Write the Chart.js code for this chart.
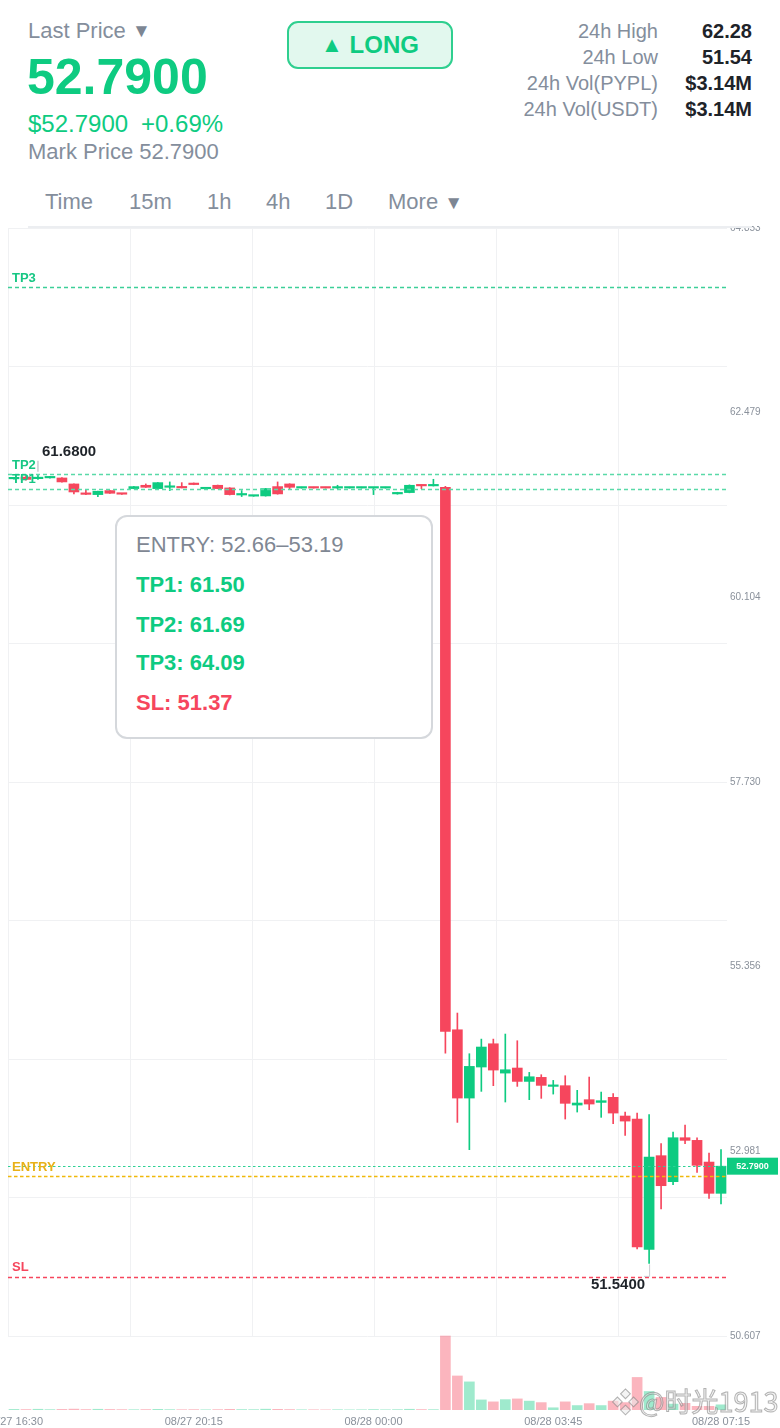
<!DOCTYPE html>
<html><head><meta charset="utf-8">
<script src="https://cdn.jsdelivr.net/npm/chart.js@4.4.1/dist/chart.umd.min.js"></script>
<style>
html,body{margin:0;padding:0;background:#fff;width:780px;height:1428px;overflow:hidden;font-family:"Liberation Sans",Arial,sans-serif;}
#wrap{position:relative;width:780px;height:1428px;}
#c{position:absolute;left:0;top:0;}
.a{position:absolute;white-space:nowrap;line-height:1;}
#hdr{position:absolute;left:0;top:0;width:780px;height:226px;background:#fff;z-index:2;}
#hline{position:absolute;left:28px;top:226px;width:724px;height:2px;background:#eceef1;z-index:2;}
.g{color:#848e9c;}
.lbl{font-size:20px;color:#848e9c;right:122px;text-align:right;}
.val{font-size:20px;color:#1e2329;font-weight:bold;right:28px;text-align:right;}
.tab{font-size:22px;color:#848e9c;top:191px;}
#long{position:absolute;left:287px;top:21px;width:162px;height:44px;border:2px solid #2fcf8f;border-radius:11px;background:#e2f8ee;color:#0ecb81;font-weight:bold;font-size:24px;line-height:44px;text-align:center;z-index:3;}
#box{position:absolute;left:115px;top:515px;width:314px;height:220px;border:2px solid #d5d8dc;border-radius:12px;background:#fff;z-index:3;}
.bt{font-size:22px;left:136px;z-index:4;}
#wm{position:absolute;left:612px;top:1387px;font-size:27px;line-height:1;color:rgba(235,235,235,0.55);-webkit-text-stroke:1px rgba(120,120,120,0.55);font-family:"Noto Sans CJK SC","Liberation Sans",sans-serif;z-index:5;white-space:nowrap;}
</style></head>
<body><div id="wrap">
<canvas id="c" width="780" height="1428"></canvas>
<div id="hdr">
  <div class="a g" style="left:28px;top:20px;font-size:22px;">Last Price <span style="font-size:19px;color:#7d8693;position:relative;top:-1px;">&#9660;</span></div>
  <div class="a" style="left:27px;top:52px;font-size:50px;font-weight:bold;color:#0ecb81;">52.7900</div>
  <div class="a" style="left:28px;top:112px;font-size:24px;color:#0ecb81;">$52.7900</div>
  <div class="a" style="left:141px;top:112px;font-size:24px;color:#0ecb81;">+0.69%</div>
  <div class="a g" style="left:28px;top:141px;font-size:22px;">Mark Price 52.7900</div>
  <div class="a lbl" style="top:21px;">24h High</div>
  <div class="a val" style="top:21px;">62.28</div>
  <div class="a lbl" style="top:47px;">24h Low</div>
  <div class="a val" style="top:47px;">51.54</div>
  <div class="a lbl" style="top:73px;">24h Vol(PYPL)</div>
  <div class="a val" style="top:73px;">$3.14M</div>
  <div class="a lbl" style="top:99px;">24h Vol(USDT)</div>
  <div class="a val" style="top:99px;">$3.14M</div>
  <div class="a tab" style="left:45px;">Time</div>
  <div class="a tab" style="left:129px;">15m</div>
  <div class="a tab" style="left:207px;">1h</div>
  <div class="a tab" style="left:266px;">4h</div>
  <div class="a tab" style="left:325px;">1D</div>
  <div class="a tab" style="left:388px;">More <span style="font-size:19px;color:#7d8693;">&#9660;</span></div>
</div>
<div id="hline"></div>
<div id="long"><span style="font-size:22px;position:relative;top:-1px;">&#9650;</span> LONG</div>
<div id="box"></div>
<div class="a bt" style="top:534px;color:#7f8793;">ENTRY: 52.66–53.19</div>
<div class="a bt" style="top:574px;color:#0ecb81;font-weight:bold;">TP1: 61.50</div>
<div class="a bt" style="top:614px;color:#0ecb81;font-weight:bold;">TP2: 61.69</div>
<div class="a bt" style="top:652px;color:#0ecb81;font-weight:bold;">TP3: 64.09</div>
<div class="a bt" style="top:692px;color:#f6465d;font-weight:bold;">SL: 51.37</div>
<div id="wm">&#10070;@时光1913</div>
</div>
<script>
// ---- data ----
const TIMES = [
 "08/27 16:30","08/27 16:45","08/27 17:00","08/27 17:15","08/27 17:30","08/27 17:45","08/27 18:00","08/27 18:15","08/27 18:30","08/27 18:45",
 "08/27 19:00","08/27 19:15","08/27 19:30","08/27 19:45","08/27 20:00","08/27 20:15","08/27 20:30","08/27 20:45","08/27 21:00","08/27 21:15",
 "08/27 21:30","08/27 21:45","08/27 22:00","08/27 22:15","08/27 22:30","08/27 22:45","08/27 23:00","08/27 23:15","08/27 23:30","08/27 23:45",
 "08/28 00:00","08/28 00:15","08/28 00:30","08/28 00:45","08/28 01:00","08/28 01:15","08/28 01:30","08/28 01:45","08/28 02:00","08/28 02:15",
 "08/28 02:30","08/28 02:45","08/28 03:00","08/28 03:15","08/28 03:30","08/28 03:45","08/28 04:00","08/28 04:15","08/28 04:30","08/28 04:45",
 "08/28 05:00","08/28 05:15","08/28 05:30","08/28 05:45","08/28 06:00","08/28 06:15","08/28 06:30","08/28 06:45","08/28 07:00","08/28 07:15"
];
const TICK_LABELS = ["08/27 16:30","08/27 20:15","08/28 00:00","08/28 03:45","08/28 07:15"];
const OPEN = [
 61.628,61.650,61.630,61.640,61.639,61.562,61.435,61.425,61.477,61.437,
 61.502,61.545,61.502,61.519,61.519,61.571,61.500,61.545,61.511,61.420,
 61.405,61.408,61.528,61.562,61.509,61.512,61.512,61.509,61.509,61.509,
 61.509,61.509,61.434,61.451,61.545,61.537,61.520,54.544,53.666,54.065,
 54.364,53.987,54.052,53.880,53.932,53.816,53.825,53.576,53.645,53.610,
 53.675,53.435,53.396,51.721,52.925,52.591,53.156,53.122,52.843,52.441
];
const CLOSE = [
 61.638,61.620,61.645,61.648,61.588,61.459,61.428,61.468,61.442,61.430,
 61.528,61.519,61.579,61.528,61.511,61.554,61.503,61.502,61.425,61.433,
 61.410,61.502,61.434,61.519,61.512,61.509,61.509,61.512,61.512,61.512,
 61.512,61.512,61.451,61.545,61.537,61.541,54.523,53.666,54.073,54.322,
 54.026,54.030,53.880,53.940,53.829,53.829,53.598,53.602,53.589,53.632,
 53.473,53.370,51.751,52.908,52.539,53.156,53.122,52.801,52.441,52.790
];
const HIGH = [
 61.645,61.660,61.680,61.660,61.645,61.565,61.485,61.470,61.480,61.440,
 61.530,61.562,61.580,61.588,61.579,61.575,61.505,61.548,61.515,61.477,
 61.412,61.505,61.588,61.565,61.514,61.513,61.513,61.545,61.513,61.513,
 61.513,61.513,61.455,61.550,61.548,61.622,61.530,54.759,54.236,54.424,
 54.424,54.489,54.403,53.996,53.966,53.893,53.953,53.765,53.936,53.743,
 53.722,53.486,53.473,53.452,53.079,53.229,53.319,53.156,52.959,53.002
];
const LOW = [
 61.625,61.610,61.620,61.635,61.585,61.434,61.425,61.400,61.440,61.428,
 61.500,61.517,61.500,61.477,61.511,61.552,61.498,61.500,61.420,61.400,
 61.403,61.405,61.430,61.490,61.508,61.508,61.508,61.500,61.508,61.508,
 61.425,61.508,61.430,61.448,61.500,61.535,54.244,53.353,53.002,53.752,
 53.825,53.615,53.816,53.645,53.662,53.717,53.396,53.486,53.516,53.418,
 53.336,53.186,51.725,51.540,52.239,52.552,53.079,52.711,52.377,52.304
];
const VOLUME = [
 0.8,0.6,1.0,0.5,0.8,1.2,0.6,1.0,0.7,0.5,
 0.4,0.6,0.9,0.5,0.4,0.5,0.3,0.5,0.9,0.6,
 0.5,1.1,0.9,0.6,0.3,0.3,0.2,0.4,0.2,0.3,
 0.6,0.3,0.5,1.0,0.6,0.5,100,46,38,13.6,
 11,14,15,12,10,3,11,6,8.6,6,
 12,10,44,25,17,8,9,5,5,7
];
const Y_TICKS = [64.853, 62.479, 60.104, 57.730, 55.356, 52.981, 50.607];
const LEVEL_NAMES = ["TP3","TP2","TP1","ENTRY","SL"];
const LEVEL_VALUES = [64.09, 61.69, 61.50, 52.66, 51.37];
const CURRENT_PRICE = 52.79;

// ---- styling ----
const PRICE_MIN = 49.655, PRICE_MAX = 64.853;
const UP = '#0ecb81', DOWN = '#f6465d';
const UP_V = 'rgba(14,203,129,0.4)', DOWN_V = 'rgba(246,70,93,0.4)';
const LEVEL_STYLE = {
  TP3:{line:'#3ccf98',text:'#16c784',dash:[4,3]},
  TP2:{line:'#5ad9a8',text:'#16c784',dash:[4,3]},
  TP1:{line:'#5ad9a8',text:'#16c784',dash:[4,3]},
  ENTRY:{line:'#f0b90b',text:'#e8b118',dash:[3.5,2.5]},
  SL:{line:'#f6465d',text:'#f6465d',dash:[4,3]}
};
const GRID_COL_FRAC = 122/719;   // vertical grid spacing as fraction of plot width
const FONT = '"Liberation Sans", Arial, sans-serif';
const isUp = OPEN.map((o,i)=>CLOSE[i]>=o);

const overlay = {
  id:'overlay',
  beforeDatasetsDraw(chart){
    const {ctx, chartArea:a, scales} = chart;
    const y = scales.y, x = scales.x;
    const topV = Y_TICKS[0], botV = Y_TICKS[Y_TICKS.length-1];
    const top = y.getPixelForValue(topV), bot = y.getPixelForValue(botV);
    ctx.save();
    ctx.strokeStyle = '#f0f1f3'; ctx.lineWidth = 1;
    for(let k=0;k<=8;k++){
      const py = Math.round(y.getPixelForValue(topV - k*(topV-botV)/8))+0.5;
      ctx.beginPath(); ctx.moveTo(a.left,py); ctx.lineTo(a.right,py); ctx.stroke();
    }
    for(let k=0;k*GRID_COL_FRAC<1;k++){
      const px = Math.round(x.getPixelForDecimal(k*GRID_COL_FRAC))+0.5;
      ctx.beginPath(); ctx.moveTo(px,top); ctx.lineTo(px,bot); ctx.stroke();
    }
    ctx.restore();
  },
  afterDatasetsDraw(chart){
    const {ctx, chartArea:a, scales} = chart;
    const y = scales.y, x = scales.x;
    ctx.save();
    // current price line
    const cp = Math.round(y.getPixelForValue(CURRENT_PRICE))+0.5;
    ctx.setLineDash([2.5,2.5]); ctx.strokeStyle = '#2fd196'; ctx.lineWidth=1.2;
    ctx.beginPath(); ctx.moveTo(a.left,cp); ctx.lineTo(a.right,cp); ctx.stroke();
    // levels
    LEVEL_NAMES.forEach((n,i)=>{
      const st = LEVEL_STYLE[n];
      const py = Math.round(y.getPixelForValue(LEVEL_VALUES[i]))+0.5;
      ctx.setLineDash(st.dash); ctx.strokeStyle = st.line; ctx.lineWidth=1.3;
      ctx.beginPath(); ctx.moveTo(a.left,py); ctx.lineTo(a.right,py); ctx.stroke();
    });
    ctx.setLineDash([]);
    LEVEL_NAMES.forEach((n,i)=>{
      const st = LEVEL_STYLE[n];
      const py = y.getPixelForValue(LEVEL_VALUES[i]);
      ctx.fillStyle = st.text; ctx.font = 'bold 13px '+FONT;
      ctx.textAlign='left'; ctx.textBaseline='middle';
      ctx.fillText(n, a.left+4, py-9);
    });
    // high marker
    const hv = Math.max(...HIGH), hi = HIGH.indexOf(hv);
    const hx = x.getPixelForValue(hi), hy = y.getPixelForValue(hv);
    ctx.strokeStyle='#c8ccd1'; ctx.lineWidth=1.5;
    ctx.beginPath(); ctx.moveTo(hx,hy-3); ctx.lineTo(hx,hy-14); ctx.stroke();
    ctx.fillStyle='#1e2329'; ctx.font='bold 15px '+FONT; ctx.textAlign='left'; ctx.textBaseline='middle';
    ctx.fillText(hv.toFixed(4), hx+4, hy-23);
    // low marker
    const lv = Math.min(...LOW), li = LOW.indexOf(lv);
    const lx = x.getPixelForValue(li), ly = y.getPixelForValue(lv);
    ctx.strokeStyle='#c8ccd1'; ctx.lineWidth=1;
    ctx.beginPath(); ctx.moveTo(lx+0.5,ly+1); ctx.lineTo(lx+0.5,ly+13); ctx.lineTo(lx-5,ly+13); ctx.stroke();
    ctx.textAlign='right';
    ctx.fillText(lv.toFixed(4), lx-4, ly+21);
    // price tag
    const cy = y.getPixelForValue(CURRENT_PRICE);
    ctx.fillStyle = UP; ctx.fillRect(a.right, cy-8.5, chart.width-a.right-2, 17);
    ctx.fillStyle='#fff'; ctx.font='bold 9px '+FONT; ctx.textAlign='center';
    ctx.fillText(CURRENT_PRICE.toFixed(4), (a.right+chart.width-2)/2, cy+0.5);
    ctx.restore();
  }
};

new Chart(document.getElementById('c'), {
  type:'bar',
  data:{
    labels: TIMES,
    datasets:[
      {label:'body', data: OPEN.map((o,i)=>[o,CLOSE[i]]), backgroundColor: isUp.map(u=>u?UP:DOWN),
       barThickness:10, minBarLength:1.5, grouped:false, order:1, yAxisID:'y'},
      {label:'wick', data: LOW.map((l,i)=>[l,HIGH[i]]), backgroundColor: isUp.map(u=>u?UP:DOWN),
       barThickness:1, minBarLength:1, grouped:false, order:2, yAxisID:'y'},
      {label:'volume', data: VOLUME, backgroundColor: isUp.map(u=>u?UP_V:DOWN_V),
       barThickness:10, grouped:false, order:3, yAxisID:'yv'}
    ]
  },
  options:{
    responsive:false, animation:false, devicePixelRatio:1,
    layout:{padding:{top:228,left:8,right:0,bottom:0}},
    plugins:{legend:{display:false}, tooltip:{enabled:false}},
    scales:{
      x:{type:'category', offset:true, grid:{display:false, drawTicks:false}, border:{display:false},
         ticks:{autoSkip:false, maxRotation:0, minRotation:0, padding:5, color:'#8a919b', font:{size:11, family:FONT},
                callback:(v,i)=> TICK_LABELS.includes(TIMES[i]) ? TIMES[i] : ''},
         afterFit(s){ s.height=18; s.paddingLeft=0; s.paddingRight=0; }},
      y:{type:'linear', position:'right', min:PRICE_MIN, max:PRICE_MAX,
         grid:{display:false, drawTicks:false}, border:{display:false},
         afterBuildTicks(s){ s.ticks = Y_TICKS.map(v=>({value:v})); },
         ticks:{padding:3, color:'#8a919b', font:{size:10, family:FONT}, autoSkip:false, callback:v=>Number(v).toFixed(3)},
         afterFit(s){ s.width=53; s.paddingTop=0; s.paddingBottom=0; }},
      yv:{type:'linear', display:false, min:0, max:100*1182/74}
    }
  },
  plugins:[overlay]
});
</script>
</body></html>
